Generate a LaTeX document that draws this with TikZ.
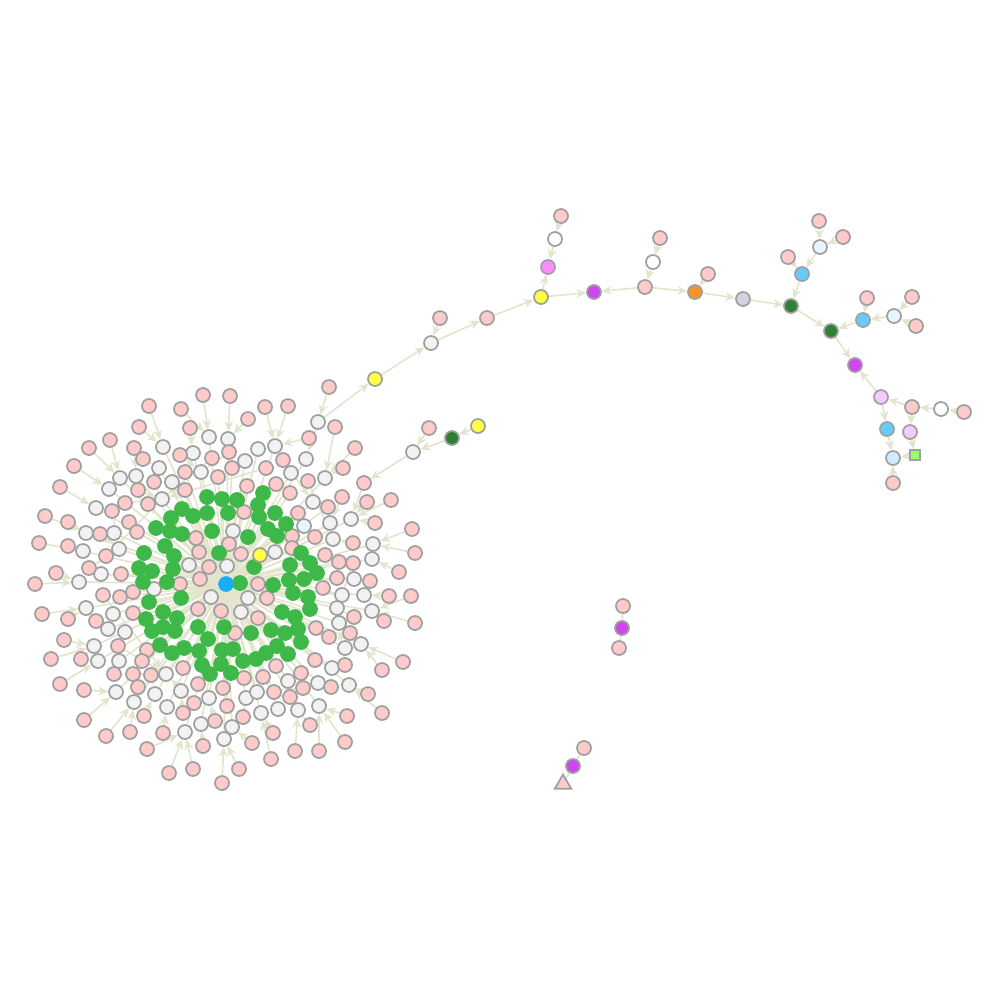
\documentclass[tikz,border=0pt]{standalone}
\usetikzlibrary{arrows.meta,backgrounds,shapes.geometric}
\definecolor{cpink}{RGB}{255,202,202}
\definecolor{cgray}{RGB}{242,242,242}
\definecolor{cgreen}{RGB}{62,184,72}
\definecolor{cblue}{RGB}{26,172,245}
\definecolor{cyellow}{RGB}{255,255,68}
\definecolor{cdkgreen}{RGB}{46,128,50}
\definecolor{cpurple}{RGB}{206,70,240}
\definecolor{cmagenta}{RGB}{255,140,255}
\definecolor{corange}{RGB}{247,148,40}
\definecolor{clav}{RGB}{210,210,225}
\definecolor{csky}{RGB}{102,204,255}
\definecolor{cicy}{RGB}{230,246,252}
\definecolor{clilac}{RGB}{240,204,255}
\definecolor{cpale}{RGB}{206,238,255}
\definecolor{csquare}{RGB}{153,255,102}
\definecolor{bordc}{RGB}{160,160,160}
\definecolor{edgec}{RGB}{226,228,204}
\tikzset{
  nd/.style={circle,draw=bordc,line width=0.5pt,minimum size=0.14cm,inner sep=0pt},
  gnd/.style={circle,draw=cgreen,fill=cgreen,line width=0.5pt,minimum size=0.14cm,inner sep=0pt},
  conn/.style={draw=edgec,line width=0.45pt,-{Stealth[length=2.8pt,width=2.5pt,inset=0.9pt]}},
  plainconn/.style={draw=edgec,line width=0.5pt}
}
\def\whitelist{209/437,228/439,163/447,193/453,159/468,201/472,136/476,120/478,172/482,109/489,162/499,96/508,86/533,114/533,83/551,119/549,101/574,189/565,79/582,258/449,275/446,245/461,291/473,325/478,313/502,330/523,351/519,233/531,333/539,373/544,275/552,372/559,227/566,354/579,154/589,211/597,86/608,113/614,108/629,125/632,94/646,98/661,119/661,166/674,116/692,155/694,181/691,134/702,167/707,209/698,201/724,185/732,224/739,248/598,342/595,364/595,241/612,337/608,372/611,339/623,345/648,361/644,332/668,318/683,349/685,288/681,246/698,257/692,261/713,278/709,298/710,319/706,232/727}
\def\pinklist{203/395,149/406,181/409,139/427,190/428,110/440,89/448,134/448,180/455,212/458,143/459,74/466,185/472,218/477,154/482,138/490,185/490,60/487,125/503,148/504,112/511,45/516,68/522,129/522,100/534,137/532,39/543,68/546,196/538,106/556,199/552,89/568,121/574,209/567,56/573,35/584,180/584,200/579,230/396,265/407,288/406,248/419,335/427,309/438,355/448,229/452,283/460,266/468,232/468,343/468,308/481,276/484,247/486,290/493,244/512,328/507,342/497,367/502,391/500,298/513,375/523,292/536,315/537,353/543,412/529,229/544,292/548,241/554,325/555,339/562,353/563,415/553,337/578,370/581,399/572,258/584,103/595,120/597,133/592,42/614,68/619,96/621,133/613,198/609,221/611,64/640,118/646,147/650,51/659,81/659,142/661,114/674,133/674,151/675,183/668,60/684,84/690,138/687,198/684,223/688,194/703,227/706,84/720,144/716,183/713,215/721,106/736,130/732,163/733,147/749,203/746,169/773,193/769,222/783,323/588,267/598,389/596,411/596,258/618,354/617,384/621,415/623,235/633,316/628,350/633,329/637,315/660,345/665,403/662,244/678,263/677,276/666,301/673,331/687,303/688,382/670,368/694,274/692,290/697,347/716,382/713,243/717,310/725,273/733,252/743,295/751,319/751,345/742,271/759,239/769}
\def\greenlist{207/497,222/499,237/500,263/493,258/505,182/509,193/516,207/513,228/513,171/518,259/517,275/513,156/528,170/531,182/534,212/531,286/524,268/529,277/536,248/537,165/546,144/553,174/556,219/553,301/553,310/563,139/568,152/571,173/569,254/567,290/565,317/573,143/582,167/582,240/583,273/585,289/580,304/579,181/598,149/602,293/593,308/597,146/619,163/612,177/618,282/612,295/617,310/609,152/631,163/627,175/631,198/627,224/627,251/633,271/630,285/633,298/629,160/645,184/648,208/639,172/653,199/651,222/650,233/649,301/642,277/646,288/654,266/653,256/659,243/661,202/665,221/664,231/673,210/674}
\newcommand\findhub[2]{%
  \pgfmathsetmacro\hubrp{veclen(#1-226,#2-584)}%
  \xdef\hubbest{\hubrp}\xdef\hubname{c}%
  \foreach \wx/\wy [count=\j] in \whitelist {%
    \pgfmathsetmacro\hubrw{veclen(\wx-226,\wy-584)}%
    \pgfmathsetmacro\hubdd{veclen(#1-\wx,#2-\wy)}%
    \pgfmathtruncatemacro\hubok{(\hubrw>90)*(\hubrw<\hubrp-15)*(\hubdd<\hubbest)}%
    \ifnum\hubok=1 \xdef\hubbest{\hubdd}\xdef\hubname{w\j}\fi
  }%
}
\begin{document}
\begin{tikzpicture}[x=0.01cm,y=-0.01cm]
\useasboundingbox (0,0) rectangle (1000,1000);
% cluster nodes
\foreach \x/\y [count=\i] in \whitelist {\node[nd,fill=cgray] (w\i) at (\x,\y) {};}
\foreach \x/\y [count=\i] in \pinklist {\node[nd,fill=cpink] (p\i) at (\x,\y) {};}
\foreach \x/\y [count=\i] in \greenlist {\node[gnd] (g\i) at (\x,\y) {};}
\node[nd,fill=cgray] (wX) at (306,459) {};
\node[nd,fill=cyellow] (y0) at (260,555) {};
\node[nd,fill=cicy] (lb0) at (304,526) {};
\node[circle,fill=cblue,draw=cblue,line width=0.5pt,minimum size=0.14cm,inner sep=0pt] (c) at (226,584) {};
% upper chain
\node[nd,fill=cpink] (ch1p) at (329,387) {};
\node[nd,fill=cgray] (ch1) at (318,422) {};
\node[nd,fill=cyellow] (yA) at (375,379) {};
\node[nd,fill=cgray] (wB) at (431,343) {};
\node[nd,fill=cpink] (pB) at (440,318) {};
\node[nd,fill=cpink] (pC) at (487,318) {};
\node[nd,fill=cyellow] (yD) at (541,297) {};
\node[nd,fill=cmagenta] (mE) at (548,267) {};
\node[nd,fill=white] (wE) at (555,239) {};
\node[nd,fill=cpink] (pE) at (561,216) {};
\node[nd,fill=cpurple] (uF) at (594,292) {};
\node[nd,fill=cpink] (pG) at (645,287) {};
\node[nd,fill=white] (wG) at (653,262) {};
\node[nd,fill=cpink] (pG2) at (660,238) {};
\node[nd,fill=corange] (oH) at (695,292) {};
\node[nd,fill=cpink] (pH) at (708,274) {};
\node[nd,fill=clav] (lI) at (743,299) {};
\node[nd,fill=cdkgreen] (dJ) at (791,306) {};
\node[nd,fill=csky] (sK) at (802,274) {};
\node[nd,fill=cpink] (pK) at (788,257) {};
\node[nd,fill=cicy] (iK) at (820,247) {};
\node[nd,fill=cpink] (pK2) at (819,221) {};
\node[nd,fill=cpink] (pK3) at (843,237) {};
\node[nd,fill=cdkgreen] (dL) at (831,331) {};
\node[nd,fill=csky] (sM) at (863,320) {};
\node[nd,fill=cpink] (pM) at (867,298) {};
\node[nd,fill=cicy] (iM) at (894,316) {};
\node[nd,fill=cpink] (pM2) at (912,297) {};
\node[nd,fill=cpink] (pM3) at (916,326) {};
\node[nd,fill=cpurple] (uN) at (855,365) {};
\node[nd,fill=clilac] (lO) at (881,397) {};
\node[nd,fill=cpink] (pO) at (912,407) {};
\node[nd,fill=white] (wO) at (941,409) {};
\node[nd,fill=cpink] (pO2) at (964,412) {};
\node[nd,fill=csky] (sP) at (887,429) {};
\node[nd,fill=clilac] (lP) at (910,432) {};
\node[rectangle,draw=bordc,fill=csquare,line width=0.5pt,minimum size=0.1cm,inner sep=0pt] (qP) at (915,455) {};
\node[nd,fill=cpale] (bP) at (893,458) {};
\node[nd,fill=cpink] (pP) at (893,483) {};
% middle chain
\node[nd,fill=cyellow] (yQ) at (478,426) {};
\node[nd,fill=cdkgreen] (dQ) at (452,438) {};
\node[nd,fill=cpink] (pQ) at (429,428) {};
\node[nd,fill=cgray] (wQ) at (413,452) {};
\node[nd,fill=cpink] (pR) at (364,483) {};
% small fragments
\node[nd,fill=cpink] (fa1) at (623,606) {};
\node[nd,fill=cpurple] (fa2) at (622,628) {};
\node[nd,fill=cpink] (fa3) at (619,648) {};
\node[nd,fill=cpink] (fb1) at (584,748) {};
\node[nd,fill=cpurple] (fb2) at (573,766) {};
\node[regular polygon,regular polygon sides=3,draw=bordc,fill=cpink,line width=0.5pt,minimum size=0.19cm,inner sep=0pt] (fb3) at (563,784) {};
\begin{pgfonlayer}{background}
\foreach \x/\y [count=\i] in \whitelist {\draw[conn] (w\i) -- (c);}
\foreach \x/\y [count=\i] in \greenlist {\draw[conn] (g\i) -- (c);}
\foreach \x/\y [count=\i] in \pinklist {\findhub{\x}{\y}\draw[conn] (p\i) -- (\hubname);}
\draw[conn] (wX) -- (c);
\draw[conn] (y0) -- (c);
\draw[conn] (lb0) -- (c);
\draw[conn] (ch1p) -- (ch1);
\draw[conn] (ch1) -- (yA);
\draw[conn] (ch1) -- (wX);
\draw[conn] (yA) -- (wB);
\draw[conn] (pB) -- (wB);
\draw[conn] (wB) -- (pC);
\draw[conn] (pC) -- (yD);
\draw[conn] (yD) -- (uF);
\draw[conn] (yD) -- (mE);
\draw[conn] (wE) -- (mE);
\draw[conn] (pE) -- (wE);
\draw[conn] (pG) -- (uF);
\draw[conn] (pG) -- (oH);
\draw[conn] (wG) -- (pG);
\draw[conn] (pG2) -- (wG);
\draw[conn] (pH) -- (oH);
\draw[conn] (oH) -- (lI);
\draw[conn] (lI) -- (dJ);
\draw[conn] (sK) -- (dJ);
\draw[conn] (iK) -- (sK);
\draw[conn] (pK) -- (sK);
\draw[conn] (pK2) -- (iK);
\draw[conn] (pK3) -- (iK);
\draw[conn] (dJ) -- (dL);
\draw[conn] (sM) -- (dL);
\draw[conn] (pM) -- (sM);
\draw[conn] (iM) -- (sM);
\draw[conn] (pM2) -- (iM);
\draw[conn] (pM3) -- (iM);
\draw[conn] (dL) -- (uN);
\draw[conn] (lO) -- (uN);
\draw[conn] (pO) -- (lO);
\draw[conn] (wO) -- (pO);
\draw[conn] (pO2) -- (wO);
\draw[conn] (lO) -- (sP);
\draw[conn] (pO) -- (lP);
\draw[conn] (sP) -- (bP);
\draw[conn] (lP) -- (qP);
\draw[conn] (qP) -- (bP);
\draw[conn] (pP) -- (bP);
\draw[conn] (yQ) -- (dQ);
\draw[conn] (dQ) -- (wQ);
\draw[conn] (pQ) -- (wQ);
\draw[conn] (wQ) -- (pR);
\findhub{364}{483}\draw[conn] (pR) -- (\hubname);
\draw[plainconn] (fa1) -- (fa2);
\draw[plainconn] (fa3) -- (fa2);
\draw[plainconn] (fb1) -- (fb2);
\draw[plainconn] (fb3) -- (fb2);
\end{pgfonlayer}
\end{tikzpicture}
\end{document}
